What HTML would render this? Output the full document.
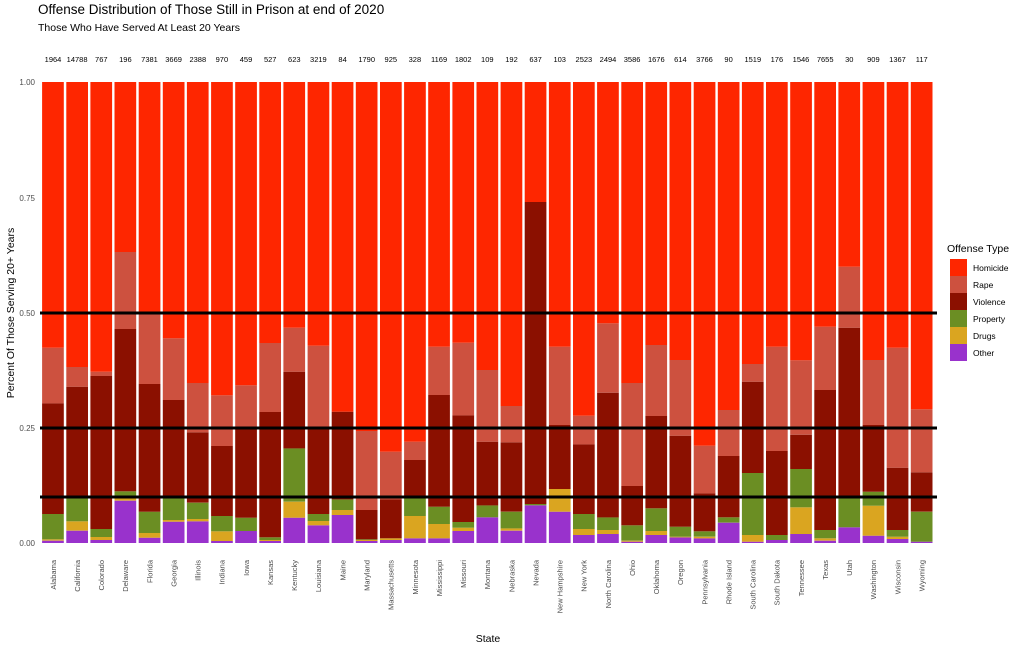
<!DOCTYPE html>
<html><head><meta charset="utf-8"><style>
body{margin:0;background:#fff;width:1024px;height:648px;overflow:hidden;font-family:"Liberation Sans",sans-serif}
</style></head><body>
<svg id="s" width="1024" height="648" xmlns="http://www.w3.org/2000/svg" font-family="Liberation Sans, sans-serif">
<text x="38" y="14" font-size="13.5" fill="#000">Offense Distribution of Those Still in Prison at end of 2020</text>
<text x="38" y="31" font-size="10.5" fill="#000">Those Who Have Served At Least 20 Years</text>
<g font-size="8" fill="#4d4d4d" text-anchor="end">
<text x="35" y="546">0.00</text><text x="35" y="431">0.25</text><text x="35" y="316">0.50</text><text x="35" y="201">0.75</text><text x="35" y="85">1.00</text>
</g>
<text transform="translate(14,313) rotate(-90)" font-size="10.5" text-anchor="middle">Percent Of Those Serving 20+ Years</text>
<text x="488" y="642" font-size="10.5" text-anchor="middle">State</text>
<g id="bars"></g>
<g id="lab" font-size="7.5" fill="#4d4d4d"></g>
<line x1="40" x2="937" y1="313" y2="313" stroke="#000" stroke-width="3"/>
<line x1="40" x2="937" y1="428" y2="428" stroke="#000" stroke-width="3"/>
<line x1="40" x2="937" y1="497" y2="497" stroke="#000" stroke-width="3"/>
<text x="947" y="252" font-size="10.5">Offense Type</text>
<g font-size="8.5">
<rect x="950" y="259" width="17" height="17" fill="#fe2600"/><text x="973" y="271">Homicide</text>
<rect x="950" y="276" width="17" height="17" fill="#cd513f"/><text x="973" y="288">Rape</text>
<rect x="950" y="293" width="17" height="17" fill="#8b1000"/><text x="973" y="305">Violence</text>
<rect x="950" y="310" width="17" height="17" fill="#6b8e23"/><text x="973" y="322">Property</text>
<rect x="950" y="327" width="17" height="17" fill="#daa520"/><text x="973" y="339">Drugs</text>
<rect x="950" y="344" width="17" height="17" fill="#9932cc"/><text x="973" y="356">Other</text>
</g>
</svg>
<script>
var st=["Alabama","California","Colorado","Delaware","Florida","Georgia","Illinois","Indiana","Iowa","Kansas","Kentucky","Louisiana","Maine","Maryland","Massachusetts","Minnesota","Mississippi","Missouri","Montana","Nebraska","Nevada","New Hampshire","New York","North Carolina","Ohio","Oklahoma","Oregon","Pennsylvania","Rhode Island","South Carolina","South Dakota","Tennessee","Texas","Utah","Washington","Wisconsin","Wyoming"];
var n=["1964","14788","767","196","7381","3669","2388","970","459","527","623","3219","84","1790","925","328","1169","1802","109","192","637","103","2523","2494","3586","1676","614","3766","90","1519","176","1546","7655","30","909","1367","117"];
var d=[[932,928,852,520,353],[902,874,805,470,411],[930,921,897,438,425],[812,805,784,297,66],[923,909,845,462,250],[875,870,805,510,325],[874,867,818,607,459],[933,904,858,648,496],[903,903,863,590,466],[933,930,922,546,339],[863,815,655,425,293],[886,873,852,598,347],[855,840,808,545,545],[933,930,928,840,603],[930,925,925,808,665],[925,858,805,690,635],[925,882,830,495,350],[903,893,876,556,338],[862,862,826,635,420],[902,895,845,637,528],[826,826,822,-84,-84],[845,777,777,585,350],[915,897,852,643,557],[912,900,862,488,280],[935,932,886,768,459],[915,903,835,558,345],[922,920,890,617,390],[925,920,904,790,647],[878,878,862,678,540],[935,915,729,455,402],[930,930,915,663,350],[912,832,717,614,391],[932,925,900,480,290],[892,892,805,293,110],[917,827,785,585,390],[927,920,900,713,353],[935,935,845,727,538]];
var col=["#9932cc","#daa520","#6b8e23","#8b1000","#cd513f","#fe2600"];
var h="",l="",sp=24.13,w=21.7;
for(var i=0;i<st.length;i++){
 var cx=53+i*sp,x=cx-w/2;
 var prev=543;
 var tops=d[i].map(function(z){return 230+z/3;}).concat([82]);
 for(var k=0;k<6;k++){var t=tops[k];if(prev-t>0.1)h+='<rect x="'+x.toFixed(1)+'" y="'+t.toFixed(1)+'" width="'+w+'" height="'+(prev-t).toFixed(1)+'" fill="'+col[k]+'"/>';prev=t;}
 l+='<text x="'+cx.toFixed(1)+'" y="62" text-anchor="middle" fill="#000">'+n[i]+'</text>';
 l+='<text transform="translate('+(cx+2.8).toFixed(1)+',560) rotate(-90)" text-anchor="end">'+st[i]+'</text>';
}
document.getElementById("bars").innerHTML=h;
document.getElementById("lab").innerHTML=l;
</script>
</body></html>
